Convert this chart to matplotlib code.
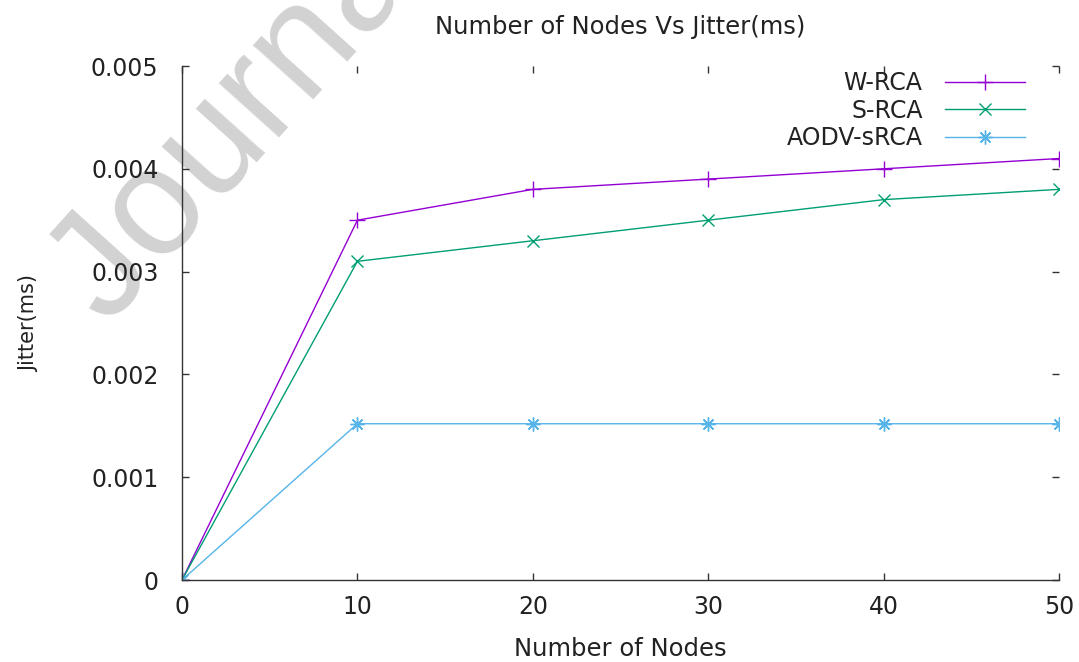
import matplotlib
matplotlib.use('Agg')
import matplotlib.pyplot as plt

NODES = [0, 10, 20, 30, 40, 50]
W_RCA = [0.0, 0.0035, 0.0038, 0.0039, 0.0040, 0.0041]
S_RCA = [0.0, 0.0031, 0.0033, 0.0035, 0.0037, 0.0038]
AODV_SRCA = [0.0, 0.00152, 0.00152, 0.00152, 0.00152, 0.00152]

X_TICKS = [0, 10, 20, 30, 40, 50]
Y_TICKS = [0, 0.001, 0.002, 0.003, 0.004, 0.005]
Y_TICK_LABELS = ['0', '0.001', '0.002', '0.003', '0.004', '0.005']

plt.rcParams['font.family'] = ['DejaVu Sans']
TEXT_COLOR = '#222222'


def main():
    fig = plt.figure(figsize=(10.79, 6.62), dpi=100)
    ax = fig.add_axes([182 / 1079, 1 - 580 / 662, 877 / 1079, 514 / 662])
    ax.set_facecolor('none')

    # watermark behind everything
    fig.text(0.10, 0.505, 'Journal Pre-proof', fontsize=110, color='#d2d2d2',
             family='Liberation Sans', rotation=48, rotation_mode='anchor',
             ha='left', va='baseline', zorder=-5)

    ax.plot(NODES, W_RCA, color='#9400d3', lw=1.0, marker='+', ms=11, mew=1.0, label='W-RCA')
    ax.plot(NODES, S_RCA, color='#009e73', lw=1.0, marker='x', ms=8, mew=1.0, label='S-RCA')
    ax.plot(NODES, AODV_SRCA, color='#56b4e9', lw=1.0, marker=(8, 2, 0), ms=10, mew=1.0,
            label='AODV-sRCA')

    ax.set_xlim(0, 50)
    ax.set_ylim(0, 0.005)
    ax.set_xticks(X_TICKS)
    ax.set_yticks(Y_TICKS)
    ax.set_yticklabels(Y_TICK_LABELS)

    for side in ['top', 'right']:
        ax.spines[side].set_visible(False)
    for side in ['left', 'bottom']:
        ax.spines[side].set_color('#333333')
        ax.spines[side].set_linewidth(1.0)

    ax.tick_params(axis='x', direction='in', length=5, width=1, top=True, pad=11,
                   labelsize=17, colors='#333333', labelcolor=TEXT_COLOR)
    ax.tick_params(axis='y', direction='in', length=5, width=1, right=True, pad=17,
                   labelsize=17, colors='#333333', labelcolor=TEXT_COLOR)

    ax.set_title('Number of Nodes Vs Jitter(ms)', fontsize=17.5, color=TEXT_COLOR, pad=23)
    ax.set_xlabel('Number of Nodes', fontsize=17.5, color=TEXT_COLOR, labelpad=13)
    ax.set_ylabel('Jitter(ms)', fontsize=15, color=TEXT_COLOR, labelpad=37)

    ax.legend(loc='upper right', bbox_to_anchor=(0.961, 0.99), frameon=False,
              markerfirst=False, fontsize=17, handlelength=3.4, handletextpad=0.93,
              labelspacing=0.15, borderpad=0, borderaxespad=0, labelcolor=TEXT_COLOR)

    fig.savefig('out.png', dpi=100)


if __name__ == '__main__':
    main()
